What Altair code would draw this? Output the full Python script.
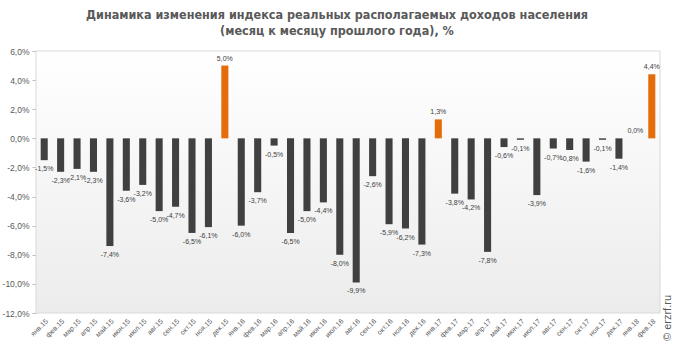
import altair as alt
import pandas as pd

months = ["янв.15", "фев.15", "мар.15", "апр.15", "май.15", "июн.15", "июл.15", "авг.15", "сен.15", "окт.15", "ноя.15", "дек.15",
          "янв.16", "фев.16", "мар.16", "апр.16", "май.16", "июн.16", "июл.16", "авг.16", "сен.16", "окт.16", "ноя.16", "дек.16",
          "янв.17", "фев.17", "мар.17", "апр.17", "май.17", "июн.17", "июл.17", "авг.17", "сен.17", "окт.17", "ноя.17", "дек.17",
          "янв.18", "фев.18"]
values = [-1.5, -2.3, -2.1, -2.3, -7.4, -3.6, -3.2, -5.0, -4.7, -6.5, -6.1, 5.0,
          -6.0, -3.7, -0.5, -6.5, -5.0, -4.4, -8.0, -9.9, -2.6, -5.9, -6.2, -7.3,
          1.3, -3.8, -4.2, -7.8, -0.6, -0.1, -3.9, -0.7, -0.8, -1.6, -0.1, -1.4,
          0.0, 4.4]
y_ticks = [-12, -10, -8, -6, -4, -2, 0, 2, 4, 6]
title_lines = ["Динамика изменения индекса реальных располагаемых доходов населения",
               "(месяц к месяцу прошлого года), %"]
watermark = "© erzrf.ru"

df = pd.DataFrame({"month": months, "value": values})
df["lbl"] = [f"{v:.1f}".replace(".", ",") + "%" for v in values]

W, H = 624, 262
FONT = "Liberation Sans"
xscale = alt.Scale(type="band", domain=months, paddingInner=0.57, paddingOuter=0.285)
yscale = alt.Scale(domain=[-12, 6], nice=False, zero=False)
yaxis = alt.Axis(values=y_ticks, grid=False, domainColor="#bfbfbf", tickColor="#bfbfbf",
                 tickSize=4, labelColor="#595959", labelFontSize=8.5, labelFont=FONT, labelPadding=3,
                 labelExpr="(datum.value < 0 ? '-' : '') + replace(format(abs(datum.value), '.1f'), '.', ',') + '%'")
yenc = alt.Y("value:Q", scale=yscale, axis=yaxis, title=None)

bg = alt.Chart(pd.DataFrame({"a": [0]})).mark_rect(
    stroke="#d9d9d9", strokeWidth=1,
    color=alt.LinearGradient(gradient="linear", x1=0, x2=0, y1=0, y2=1,
                             stops=[alt.GradientStop(color="#ffffff", offset=0),
                                    alt.GradientStop(color="#ececec", offset=1)])
).encode(x=alt.value(0), x2=alt.value(W), y=alt.value(0), y2=alt.value(H))

zero_ticks = alt.Chart(df).mark_tick(opacity=0).encode(
    x=alt.X("month:N", scale=xscale, sort=months, title=None,
            axis=alt.Axis(orient="top", offset=-(H * 6 / 18), labels=False, domain=True,
                          domainColor="#bfbfbf", ticks=True, tickBand="extent",
                          tickColor="#bfbfbf", tickSize=3))
)

bars = alt.Chart(df).mark_bar().encode(
    x=alt.X("month:N", scale=xscale, sort=months, title=None,
            axis=alt.Axis(labelAngle=-45, domain=False, ticks=False, labelColor="#595959",
                          labelFontSize=7, labelFont=FONT, labelPadding=4)),
    y=yenc,
    y2=alt.Y2(datum=0),
    color=alt.condition(alt.datum.value > 0, alt.value("#e46c0a"), alt.value("#404040")),
)

xnone = alt.X("month:N", scale=xscale, sort=months, axis=None)
pos_lbl = alt.Chart(df).transform_filter(alt.datum.value >= 0).mark_text(
    baseline="bottom", dy=-4, fontSize=7, font=FONT, color="#404040"
).encode(x=xnone, y=yenc, text="lbl:N")
neg_lbl = alt.Chart(df).transform_filter(alt.datum.value < 0).mark_text(
    baseline="top", dy=5, fontSize=7, font=FONT, color="#404040"
).encode(x=xnone, y=yenc, text="lbl:N")

wm = alt.Chart(pd.DataFrame({"t": [watermark]})).mark_text(
    angle=270, fontSize=11, font=FONT, color="#595959", align="center", baseline="middle"
).encode(x=alt.value(W + 8), y=alt.value(H + 5), text="t:N")

chart = alt.layer(bg, zero_ticks, bars, pos_lbl, neg_lbl, wm).resolve_axis(x="independent").properties(
    width=W, height=H, autosize="none",
    padding={"left": 36, "top": 51, "right": 14, "bottom": 41},
    title=alt.TitleParams(text=title_lines, fontSize=12.5, fontWeight="bold",
                          font="DejaVu Sans Condensed, Roboto Condensed, Roboto, sans-serif",
                          color="#595959", anchor="middle",
                          dx=-11, offset=10, lineHeight=16),
).configure_view(stroke=None)

chart.save("out.html", embed_options={"renderer": "svg", "actions": False})
